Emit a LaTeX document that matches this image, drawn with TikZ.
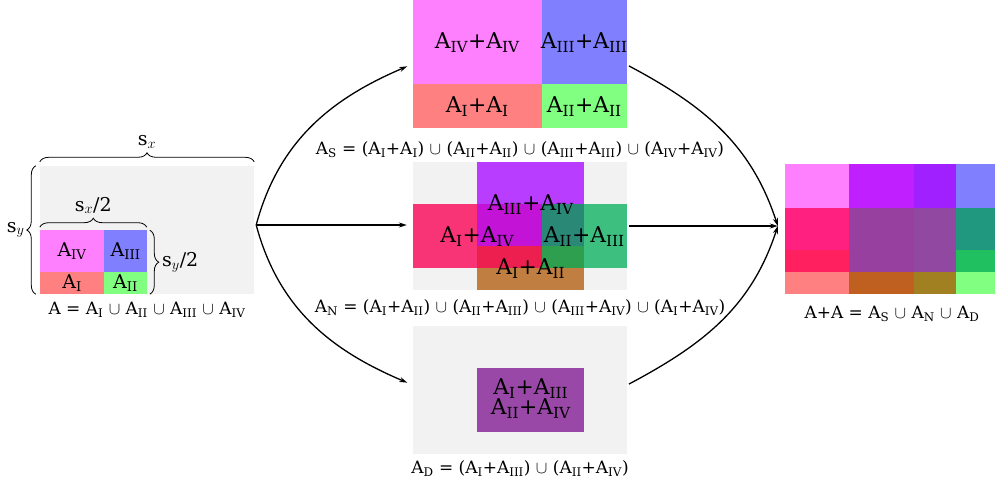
\documentclass[tikz,border=0pt]{standalone}
\usepackage{fontspec}
\setmainfont{DejaVu Serif}
\usetikzlibrary{arrows.meta,positioning,decorations.pathreplacing}
\definecolor{PanelGrey}{HTML}{F2F2F2}
\definecolor{PartI}{HTML}{FF8080}
\definecolor{PartII}{HTML}{80FF80}
\definecolor{PartIII}{HTML}{8080FF}
\definecolor{PartIV}{HTML}{FF80FF}
\definecolor{NPurple}{HTML}{B93DFF}
\definecolor{NPink}{HTML}{F83477}
\definecolor{NGreen}{HTML}{3DBF80}
\definecolor{NBrown}{HTML}{C07F40}
\definecolor{NPurPink}{HTML}{C313D6}
\definecolor{NPurGreen}{HTML}{2A8877}
\definecolor{NPinkBrown}{HTML}{EC1F4F}
\definecolor{NGreenBrown}{HTML}{2E9F4E}
\definecolor{DPurple}{HTML}{9A48A8}
\definecolor{Ma1}{HTML}{FF8080}\definecolor{Ma2}{HTML}{C06020}
\definecolor{Ma3}{HTML}{A08020}\definecolor{Ma4}{HTML}{80FF80}
\definecolor{Mb1}{HTML}{FF2060}\definecolor{Mb2}{HTML}{9840A0}
\definecolor{Mb3}{HTML}{9048A0}\definecolor{Mb4}{HTML}{20C060}
\definecolor{Mc1}{HTML}{FF2080}\definecolor{Mc2}{HTML}{9840A0}
\definecolor{Mc3}{HTML}{9048A0}\definecolor{Mc4}{HTML}{20987F}
\definecolor{Md1}{HTML}{FF80FF}\definecolor{Md2}{HTML}{C020FF}
\definecolor{Md3}{HTML}{A020FF}\definecolor{Md4}{HTML}{8080FF}
\tikzset{>={Stealth[length=8pt,width=5pt]},
 panel/.style={fill=PanelGrey,minimum width=214pt,minimum height=128pt,inner sep=0pt},
 parttxt/.style={font=\fontsize{19}{21}\selectfont,inner sep=0pt},
 sumtxt/.style={font=\fontsize{21.8}{23}\selectfont,inner sep=0pt,align=center},
 caption/.style={font=\fontsize{17}{19}\selectfont,inner sep=0pt},
 sizetxt/.style={font=\fontsize{19}{21}\selectfont,inner sep=0pt},
 brace/.style={decorate,decoration={brace,amplitude=9pt},line width=0.8pt},
 flow/.style={->,line width=1.3pt}}
\newcommand{\Ai}{A\textsubscript{I}}
\newcommand{\Aii}{A\textsubscript{II}}
\newcommand{\Aiii}{A\textsubscript{III}}
\newcommand{\Aiv}{A\textsubscript{IV}}
\newcommand{\Un}{ $\cup$ }

\begin{document}
\begin{tikzpicture}[x=1pt,y=1pt]
\useasboundingbox (0,0) rectangle (995,487);
% the set A
\node[panel] (lp) at (147,257) {};
\begin{scope}[shift={(lp.south west)}]
\fill[PartI] (0,0) rectangle (64.5,22);
\fill[PartII] (64.5,0) rectangle (107,22);
\fill[PartIV] (0,22) rectangle (64.5,64);
\fill[PartIII] (64.5,22) rectangle (107,64);
\node[parttxt] (ai) at (32.25,11) {\Ai};
\node[parttxt] (aii) at (85.75,11) {\Aii};
\node[parttxt] (aiv) at (32.25,43) {\Aiv};
\node[parttxt] (aiii) at (85.75,43) {\Aiii};
\draw[brace] (0,67) -- node[sizetxt,above=13pt] (hsx) {s$_x$/2} (107,67);
\draw[brace] (110,64) -- node[sizetxt,right=12pt] (hsy) {s$_y$/2} (110,0);
\end{scope}
\draw[brace] ([yshift=4pt]lp.north west) -- node[sizetxt,above=13pt] (sx) {s$_x$} ([yshift=4pt]lp.north east);
\draw[brace] ([xshift=-4pt]lp.south west) -- node[sizetxt,left=11pt] (sy) {s$_y$} ([xshift=-4pt]lp.north west);
\node[caption,below=8pt of lp] (lcap) {A = \Ai\Un\Aii\Un\Aiii\Un\Aiv};
% A_S
\node[panel] (tp) at (520,423) {};
\begin{scope}[shift={(tp.south west)}]
\fill[PartI] (0,0) rectangle (129,44);
\fill[PartII] (129,0) rectangle (214,44);
\fill[PartIV] (0,44) rectangle (129,128);
\fill[PartIII] (129,44) rectangle (214,128);
\node[sumtxt] (ss1) at (64.5,22) {\Ai+\Ai};
\node[sumtxt] (ss2) at (171.5,22) {\Aii+\Aii};
\node[sumtxt] (ss4) at (64.5,86) {\Aiv+\Aiv};
\node[sumtxt] (ss3) at (171.5,86) {\Aiii+\Aiii};
\end{scope}
\node[caption,below=13pt of tp] (scap) {A\textsubscript{S} = (\Ai+\Ai)\Un(\Aii+\Aii)\Un(\Aiii+\Aiii)\Un(\Aiv+\Aiv)};
% A_N
\node[panel] (mp) at (520,261) {};
\begin{scope}[shift={(mp.south west)}]
\fill[NPurple] (64.5,44) rectangle (171.5,128);
\fill[NPink] (0,22) rectangle (129,86);
\fill[NGreen] (129,22) rectangle (214,86);
\fill[NBrown] (64.5,0) rectangle (171.5,44);
\fill[NPurPink] (64.5,44) rectangle (129,86);
\fill[NPurGreen] (129,44) rectangle (171.5,86);
\fill[NPinkBrown] (64.5,22) rectangle (129,44);
\fill[NGreenBrown] (129,22) rectangle (171.5,44);
\node[sumtxt] (ns34) at (118,86) {\Aiii+\Aiv};
\node[sumtxt] (ns14) at (64.5,54) {\Ai+\Aiv};
\node[sumtxt] (ns23) at (171.5,54) {\Aii+\Aiii};
\node[sumtxt] (ns12) at (118,22) {\Ai+\Aii};
\end{scope}
\node[caption,below=9pt of mp] (ncap) {A\textsubscript{N} = (\Ai+\Aii)\Un(\Aii+\Aiii)\Un(\Aiii+\Aiv)\Un(\Ai+\Aiv)};
% A_D
\node[panel] (bp) at (520,97) {};
\begin{scope}[shift={(bp.south west)}]
\fill[DPurple] (64.5,22) rectangle (171.5,86);
\node[sumtxt] (ds) at (118,56) {\Ai+\Aiii\\[-3pt]\Aii+\Aiv};
\end{scope}
\node[caption,below=6pt of bp] (dcap) {A\textsubscript{D} = (\Ai+\Aiii)\Un(\Aii+\Aiv)};
% A+A
\node[panel] (rp) at (892,257) {};
\begin{scope}[shift={(rp.south west)}]
\foreach \ya/\yb/\ca/\cb/\cc/\cd in {0/22/Ma1/Ma2/Ma3/Ma4,22/44/Mb1/Mb2/Mb3/Mb4,
 44/86/Mc1/Mc2/Mc3/Mc4,86/130/Md1/Md2/Md3/Md4}{
 \fill[\ca] (0,\ya) rectangle (64.5,\yb);
 \fill[\cb] (64.5,\ya) rectangle (129,\yb);
 \fill[\cc] (129,\ya) rectangle (171.5,\yb);
 \fill[\cd] (171.5,\ya) rectangle (214,\yb);
}
\end{scope}
\node[caption,below=12pt of rp] (rcap) {A+A = A\textsubscript{S}\Un A\textsubscript{N}\Un A\textsubscript{D}};
% arrows
\coordinate (fork) at ([xshift=2pt,yshift=5pt]lp.east);
\coordinate (join) at ([xshift=-7pt,yshift=4pt]rp.west);
\draw[flow,shorten >=6pt] (fork) to[out=75,in=203] (tp.west);
\draw[flow,shorten >=6pt] (fork) -- (fork-|mp.west);
\draw[flow,shorten >=6pt] (fork) to[out=-75,in=157] ([yshift=5pt]bp.west);
\draw[flow,shorten <=2pt] ([yshift=-1pt]tp.east) to[out=-28,in=108] (join);
\draw[flow,shorten <=2pt] (join-|mp.east) -- (join);
\draw[flow,shorten <=2pt] ([yshift=5pt]bp.east) to[out=28,in=-108] (join);
\end{tikzpicture}
\end{document}
